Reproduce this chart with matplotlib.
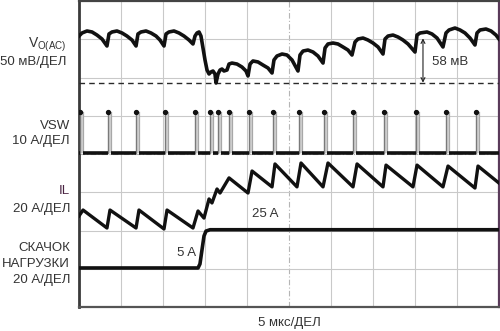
import matplotlib
matplotlib.use("Agg")
import matplotlib.pyplot as plt
import numpy as np

plt.rcParams['font.family'] = ['Liberation Sans', 'DejaVu Sans']
plt.rcParams['mathtext.fontset'] = 'custom'
plt.rcParams['mathtext.rm'] = 'Liberation Sans'

# ---------------- data (time in µs, 5 µs/div) ----------------
# Output voltage ripple, mV above the lowest point (dashed line)
vo_t = [0, 0.36, 0.95, 1.55, 2.14, 2.74, 3.33, 3.57, 3.93, 4.52, 5.12, 5.71, 6.31, 6.79,
        7.02, 7.38, 7.98, 8.57, 9.17, 9.64, 10.12, 10.36, 10.71, 11.31, 11.90, 12.50, 13.10,
        13.57, 13.81, 14.05, 14.29, 14.52, 14.76, 15.00, 15.24, 15.48, 15.71, 15.95, 16.19,
        16.31, 16.55, 16.79, 17.02, 17.26, 17.62, 17.86, 18.21, 18.81, 19.40, 19.88, 20.12,
        20.36, 20.71, 21.31, 21.90, 22.50, 22.98, 23.21, 23.57, 24.17, 24.76, 25.36, 26.07,
        26.31, 26.67, 27.26, 27.86, 28.45, 29.05, 29.29, 29.64, 30.24, 30.83, 31.43, 32.02,
        32.50, 32.86, 33.21, 33.81, 34.40, 35.00, 35.60, 36.19, 36.43, 36.79, 37.38, 37.98,
        38.57, 39.17, 40.00, 40.24, 40.60, 41.43, 42.02, 42.62, 43.33, 43.69, 44.05, 44.76,
        45.36, 45.95, 46.55, 47.14, 47.38, 47.74, 48.45, 49.05, 49.64, 50.0]
vo_mv = [61, 65, 67.6, 66.3, 62.3, 57.1, 48, 63.7, 66.3, 67.6, 65, 61, 55.8, 48,
         63.7, 66.3, 67.6, 65, 61, 55.8, 48, 63.7, 66.3, 67.6, 65, 61, 55.8,
         50.6, 61, 65, 66.3, 61, 45.4, 29.7, 16.6, 11.4, 14, 15.3, 11.4,
         -0.4, 11.4, 16.6, 17.9, 15.3, 16.6, 24.4, 25.7, 24.4, 20.5, 15.3, 8.8,
         24.4, 28.4, 27.1, 23.1, 19.2, 12.7, 29.7, 34.9, 37.5, 36.2, 29.7, 15.3,
         36.2, 41.4, 42.7, 40.1, 34.9, 25.7, 45.4, 50.6, 51.9, 50.6, 46.7, 42.7,
         36.2, 53.2, 57.1, 58.4, 55.8, 51.9, 46.7, 37.5, 57.1, 61, 62.3, 59.7,
         55.8, 50.6, 40.1, 62.3, 65, 66.3, 63.7, 58.4, 46.7, 65, 68.9, 71.5,
         68.9, 65, 58.4, 49.3, 65, 68.9, 70.2, 67.6, 62.3, 57.1]

# Switch-node pulse times (µs)
vsw_pulse_t = [0.12, 3.45, 6.79, 10.24, 13.81, 15.60, 16.55, 17.86, 20.24, 23.10, 26.19,
               29.17, 32.62, 36.31, 40.12, 43.69, 47.26]
vsw_high = 10.8

# Inductor current (A)
il_t = [0, 0.48, 3.33, 3.69, 6.79, 7.14, 10.12, 10.48, 13.57, 14.17, 14.88, 15.48, 15.83,
        16.43, 16.79, 17.86, 20.12, 20.60, 22.98, 23.33, 25.95, 26.43, 29.05, 29.64, 32.62,
        33.10, 36.19, 36.55, 39.76, 40.24, 43.33, 43.93, 47.14, 47.50, 50.0]
il_a = [6.6, 9.7, 0.3, 9.7, 0.3, 9.7, -0.2, 9.7, 0.3, 9.2, 5.5, 15.5, 13.4,
        20.7, 18.6, 26.5, 18.6, 30.1, 21.8, 33.8, 21.8, 34.3, 21.8, 34.3, 21.8,
        33.8, 21.8, 33.2, 21.8, 33.2, 21.8, 32.7, 21.2, 32.7, 23.8]

# Load step (A)
load_t = [0, 14.17, 14.40, 14.88, 15.12, 15.60, 50.0]
load_a = [5, 5, 7.1, 21.7, 24.3, 25, 25]

# ---------------- scales (div offsets) ----------------
VO_OFF, VO_SCALE = 5.864, 50.0
VSW_OFF, VSW_SCALE = 4.03, 10.0
IL_OFF, IL_SCALE = 2.05, 20.0
LD_OFF, LD_SCALE = 0.77, 20.0
PULSE_W = 0.36

fig = plt.figure(figsize=(5.0, 3.31), dpi=100)
ax = fig.add_axes([79 / 500, 1 - 307 / 331, 420 / 500, 306 / 331])
ax.set_xlim(0, 50)
ax.set_ylim(0, 8)

grid_c = '#c9c9c9'
for xv in np.arange(5, 50, 5):
    ax.axvline(xv, color=grid_c if xv != 25 else '#b5b5b5', lw=0.8,
               ls='-' if xv != 25 else (0, (5, 2, 1, 2)), zorder=1)
for yv in range(1, 8):
    ax.axhline(yv, color=grid_c if yv != 4 else '#b5b5b5', lw=0.8,
               ls='-' if yv != 4 else (0, (5, 2, 1, 2)), zorder=1)

tr = '#111111'
vo = VO_OFF + np.array(vo_mv) / VO_SCALE
ax.plot(vo_t, vo, color=tr, lw=2.6, solid_joinstyle='round', zorder=4)

# dashed reference line and 58 mV arrow
ax.axhline(VO_OFF, color='#2a2a2a', lw=1.0, ls=(0, (4, 3)), zorder=3)
ax.annotate('', xy=(40.95, VO_OFF), xytext=(40.95, VO_OFF + 58 / VO_SCALE),
            arrowprops=dict(arrowstyle='<->', color='#222222', lw=0.8,
                            mutation_scale=7, shrinkA=0, shrinkB=0), zorder=5)
ax.text(44.2, VO_OFF + 0.55, '58 мВ', ha='center', va='center', fontsize=9.5, color='#333333')

# VSW
base = VSW_OFF
top = VSW_OFF + vsw_high / VSW_SCALE
starts = [0] + [p + PULSE_W for p in vsw_pulse_t]
ends = [p for p in vsw_pulse_t] + [50]
for s, e in zip(starts, ends):
    if e > s:
        ax.plot([s, e], [base, base], color=tr, lw=2.6, solid_capstyle='butt', zorder=4)
for p in vsw_pulse_t:
    ax.fill_between([p, p + PULSE_W], base, top, color='#d2d2d2', lw=0, zorder=2)
    ax.plot([p, p], [base, top], color='#7a7a7a', lw=1.0, zorder=3)
    ax.plot([p + PULSE_W, p + PULSE_W], [base, top], color='#a8a8a8', lw=0.9, zorder=3)
    ax.plot([p], [top], marker='o', ms=2.8, color=tr, zorder=5)

# IL
ax.plot(il_t, IL_OFF + np.array(il_a) / IL_SCALE, color=tr, lw=2.4, zorder=4)
# Load step
ax.plot(load_t, LD_OFF + np.array(load_a) / LD_SCALE, color=tr, lw=2.6, zorder=4)

ax.text(12.86, 1.41, '5 A', ha='center', va='center', fontsize=9.5, color='#333333')
ax.text(22.14, 2.43, '25 A', ha='center', va='center', fontsize=9.5, color='#333333')

ax.set_xticks([])
ax.set_yticks([])
for side, c, w in [('left', '#3a3a3a', 2.0), ('bottom', '#555555', 1.6),
                   ('top', '#444444', 1.6), ('right', '#5a3a5a', 1.6)]:
    ax.spines[side].set_color(c)
    ax.spines[side].set_linewidth(w)

tc = '#333333'
fs = 9.5
def lab(px, py, s, color=tc, size=fs):
    fig.text(px / 500, 1 - py / 331, s, ha='right', va='center', fontsize=size, color=color)

lab(66, 45, r'V$_{\mathrm{O(AC)}}$', size=10)
lab(66, 62, '50 мВ/ДЕЛ')
lab(70, 126, 'VSW')
lab(70, 141, '10 А/ДЕЛ')
lab(70, 191, 'IL', color='#4a2442')
lab(70, 209, '20 А/ДЕЛ')
lab(70, 248, 'СКАЧОК')
lab(70, 264, 'НАГРУЗКИ')
lab(70, 280, '20 А/ДЕЛ')
fig.text(289 / 500, 1 - 323 / 331, '5 мкс/ДЕЛ', ha='center', va='center', fontsize=fs, color=tc)

fig.savefig('out.png', dpi=100)
